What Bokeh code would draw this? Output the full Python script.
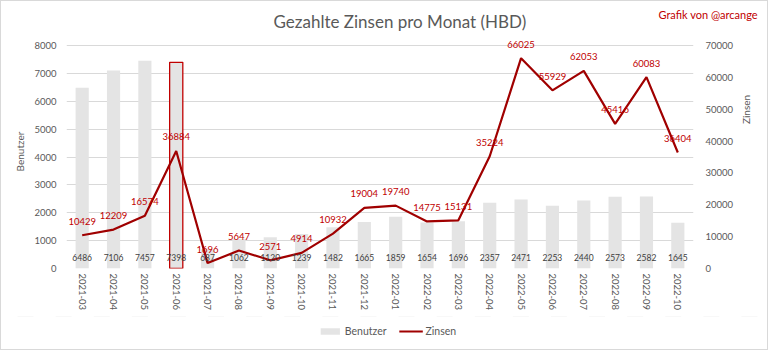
import math
from bokeh.plotting import figure
from bokeh.layouts import column, row
from bokeh.models import (Range1d, LinearAxis, Label, LabelSet, Legend, LegendItem,
                          ColumnDataSource, FactorRange, FixedTicker)
from bokeh.core.properties import value
from bokeh.embed import file_html
from bokeh.resources import INLINE

months = ["2021-03", "2021-04", "2021-05", "2021-06", "2021-07", "2021-08", "2021-09",
          "2021-10", "2021-11", "2021-12", "2022-01", "2022-02", "2022-03", "2022-04",
          "2022-05", "2022-06", "2022-07", "2022-08", "2022-09", "2022-10"]
benutzer = [6486, 7106, 7457, 7398, 687, 1062, 1120, 1239, 1482, 1665, 1859, 1654,
            1696, 2357, 2471, 2253, 2440, 2573, 2582, 1645]
zinsen = [10429, 12209, 16574, 36884, 1696, 5647, 2571, 4914, 10932, 19004, 19740,
          14775, 15131, 35224, 66025, 55929, 62053, 45416, 60083, 36404]
highlight_month = "2021-06"
left_ticks = [0, 1000, 2000, 3000, 4000, 5000, 6000, 7000, 8000]
right_ticks = [0, 10000, 20000, 30000, 40000, 50000, 60000, 70000]

title_text = "Gezahlte Zinsen pro Monat (HBD)"
credit_text = "Grafik von @arcange"
left_title = "Benutzer"
right_title = "Zinsen"

FONT = "Lato"
GRAY_TXT = "#595959"
RED_TXT = "#c00000"
LINE_RED = "#a00000"
BAR_GRAY = "#e4e4e4"

W = 768
TOP_H = 34          # strip with title + credit
LEG_H = 34          # strip with legend
MAIN_H = 350 - TOP_H - LEG_H
STRIP_W = 32        # right strip with "Zinsen"
MAIN_W = W - STRIP_W
FRAME_H = 268 - TOP_H        # frame bottom at page y=268
AXIS_H = 268 - 45            # axis max sits at page y=45
scale = FRAME_H / AXIS_H


def blank(width, height, **kw):
    f = figure(width=width, height=height, output_backend="svg", toolbar_location=None,
               x_range=Range1d(0, 1), y_range=Range1d(0, 1), min_border=0, **kw)
    f.axis.visible = False
    f.grid.visible = False
    f.outline_line_color = None
    f.background_fill_alpha = 0
    f.border_fill_alpha = 0
    return f


src = ColumnDataSource(dict(
    month=months, benutzer=benutzer, zinsen=zinsen,
    blabel=[str(v) for v in benutzer], zlabel=[str(v) for v in zinsen],
    zero=[0] * len(months),
))
hi = months.index(highlight_month)
hsrc = ColumnDataSource(dict(month=[months[hi]], benutzer=[benutzer[hi]]))

# ---------- top strip ----------
t = blank(W, TOP_H)
t.add_layout(Label(x=267, y=TOP_H - 21, x_units="screen", y_units="screen",
                   text=title_text, text_align="left", text_baseline="middle",
                   text_font=FONT, text_font_size="17px", text_color=GRAY_TXT))
t.add_layout(Label(x=652, y=TOP_H - 14, x_units="screen", y_units="screen",
                   text=credit_text, text_align="left", text_baseline="middle",
                   text_font=FONT, text_font_size="11px", text_color=RED_TXT))

# ---------- main plot ----------
p = figure(x_range=FactorRange(factors=months),
           y_range=Range1d(0, left_ticks[-1] * scale),
           width=MAIN_W, height=MAIN_H, output_backend="svg", toolbar_location=None,
           min_border_left=66, min_border_right=MAIN_W - 694, min_border_top=0,
           min_border_bottom=MAIN_H - FRAME_H)
p.extra_y_ranges = {"z": Range1d(0, right_ticks[-1] * scale)}
p.outline_line_color = None
p.background_fill_alpha = 0
p.border_fill_alpha = 0

lt = FixedTicker(ticks=left_ticks)
p.yaxis.ticker = lt
p.ygrid.ticker = lt
p.ygrid.grid_line_color = "#d9d9d9"
p.xgrid.grid_line_color = None


def style_axis(ax, standoff):
    ax.axis_line_color = None
    ax.major_tick_line_color = None
    ax.minor_tick_line_color = None
    ax.major_tick_out = 0
    ax.major_tick_in = 0
    ax.minor_tick_out = 0
    ax.minor_tick_in = 0
    ax.major_label_text_color = GRAY_TXT
    ax.major_label_text_font = FONT
    ax.major_label_text_font_size = "9.5px"
    ax.major_label_standoff = standoff
    ax.axis_label_text_color = GRAY_TXT
    ax.axis_label_text_font = FONT
    ax.axis_label_text_font_size = "10px"
    ax.axis_label_text_font_style = "normal"


la = p.yaxis[0]
style_axis(la, 10)
la.axis_label = left_title
la.axis_label_standoff = 5

ra = LinearAxis(y_range_name="z", ticker=FixedTicker(ticks=right_ticks))
style_axis(ra, 12)
p.add_layout(ra, "right")

xa = p.xaxis[0]
style_axis(xa, 5)
xa.major_label_orientation = "vertical"

p.vbar(x="month", top="benutzer", width=0.42, source=src,
       fill_color=BAR_GRAY, line_color=None)
p.vbar(x="month", top="benutzer", width=0.42, source=hsrc,
       fill_color=None, line_color=RED_TXT, line_width=1.3)
p.line(x="month", y="zinsen", y_range_name="z", source=src,
       line_color=LINE_RED, line_width=2.2)

p.add_layout(LabelSet(x="month", y="zero", text="blabel", source=src,
                      y_offset=11, text_align="center", text_baseline="middle",
                      text_font=value(FONT), text_font_size=value("8.5px"),
                      text_color="#404040"))
p.add_layout(LabelSet(x="month", y="zinsen", text="zlabel", source=src,
                      y_range_name="z", y_offset=14, text_align="center",
                      text_baseline="middle", text_font=value(FONT),
                      text_font_size=value("9.5px"), text_color=RED_TXT))

# ---------- right strip with the right axis title ----------
rs = blank(STRIP_W, MAIN_H)
rs.add_layout(Label(x=745 - MAIN_W, y=MAIN_H - (157 - TOP_H), x_units="screen",
                    y_units="screen", text=right_title, angle=math.pi / 2,
                    text_align="center", text_baseline="middle", text_font=FONT,
                    text_font_size="10px", text_color=GRAY_TXT))

# ---------- legend strip: same data drawn out of view ----------
q = figure(x_range=p.x_range, y_range=Range1d(-2 * left_ticks[-1], -left_ticks[-1]),
           width=W, height=LEG_H, output_backend="svg", toolbar_location=None,
           min_border=0, min_border_left=6)
q.axis.visible = False
q.grid.visible = False
q.outline_line_color = None
q.background_fill_alpha = 0
q.border_fill_alpha = 0
lbars = q.vbar(x="month", top="benutzer", width=0.42, source=src,
               fill_color=BAR_GRAY, line_color=None)
lline = q.line(x="month", y="zinsen", source=src, line_color=LINE_RED, line_width=2.2)
legend = Legend(items=[LegendItem(label=left_title, renderers=[lbars]),
                       LegendItem(label=right_title, renderers=[lline])],
                orientation="horizontal", location="top",
                border_line_color=None, background_fill_alpha=0,
                label_text_font=FONT, label_text_font_size="10.5px",
                label_text_color=GRAY_TXT, glyph_width=24, glyph_height=8,
                spacing=12, label_standoff=3, padding=2, margin=9)
q.add_layout(legend, "center")

lay = column(t, row(p, rs, spacing=0), q, spacing=0)
lay.styles = {"box-shadow": "inset 0 0 0 1px #d9d9d9"}

open("out.html", "w").write(file_html(lay, INLINE))
